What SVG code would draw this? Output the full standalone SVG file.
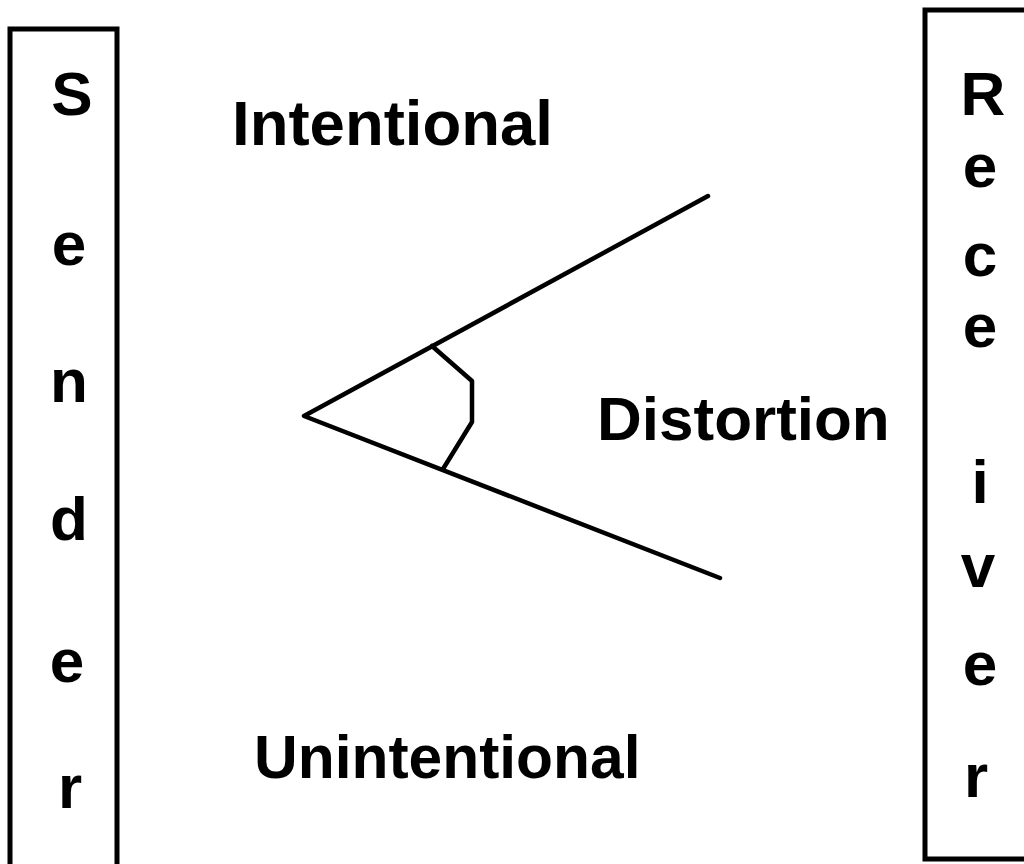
<svg xmlns="http://www.w3.org/2000/svg" width="1024" height="864" viewBox="0 0 1024 864">
<style>
.box{fill:none;stroke:#000;stroke-width:5}
.ln{fill:none;stroke:#000;stroke-width:4.5;stroke-linejoin:round;stroke-linecap:round}
.t{font-family:"Liberation Sans",Arial,sans-serif;font-weight:bold;font-size:62px;fill:#000}
.c{text-anchor:middle}
</style>
<rect width="1024" height="864" fill="#fff"/>
<g id="sender">
<rect class="box" x="10" y="29" width="107" height="840"/>
<text class="t c" x="72" y="115">S</text>
<text class="t c" x="69" y="265">e</text>
<text class="t c" x="69" y="402">n</text>
<text class="t c" x="69" y="540">d</text>
<text class="t c" x="67" y="682">e</text>
<text class="t c" x="70" y="808">r</text>
</g>
<g id="receiver">
<rect class="box" x="925" y="10" width="110" height="849"/>
<text class="t c" x="983" y="115">R</text>
<text class="t c" x="980" y="187">e</text>
<text class="t c" x="980" y="276">c</text>
<text class="t c" x="980" y="347">e</text>
<text class="t c" x="980" y="503">i</text>
<text class="t c" x="978" y="587">v</text>
<text class="t c" x="980" y="685">e</text>
<text class="t c" x="976" y="797">r</text>
</g>
<g id="intentional"><text class="t" x="232" y="145" style="font-size:63.5px">Intentional</text></g>
<g id="unintentional"><text class="t" x="254" y="778" style="font-size:60.5px">Unintentional</text></g>
<g id="distortion"><text class="t" x="597" y="440">Distortion</text></g>
<g id="connectors">
<polyline class="ln" points="708,196 304,416 720,578"/>
<polyline class="ln" points="432,346 472,381 472,422 443,469"/>
</g>
</svg>
